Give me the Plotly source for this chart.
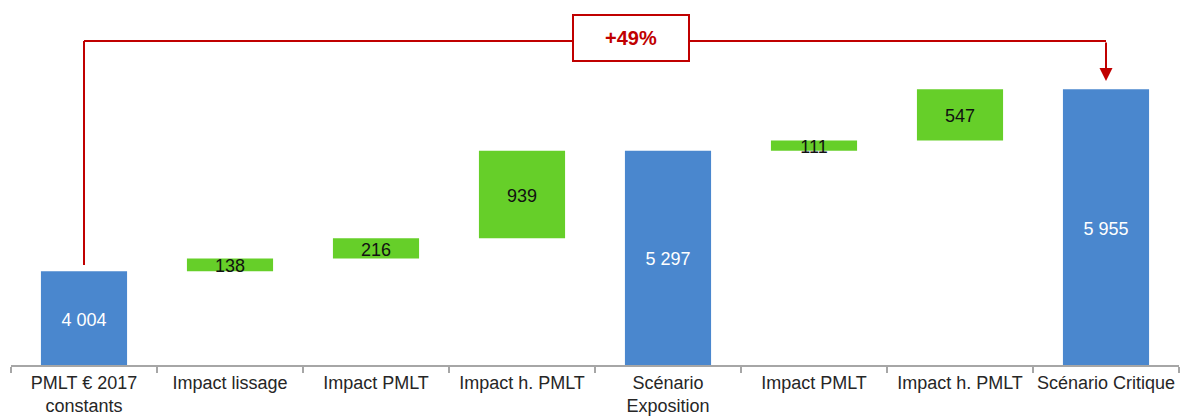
import plotly.graph_objects as go

categories = ["PMLT € 2017<br>constants", "Impact lissage", "Impact PMLT", "Impact h. PMLT",
              "Scénario<br>Exposition", "Impact PMLT", "Impact h. PMLT", "Scénario Critique"]
values = [4004, 138, 216, 939, 5297, 111, 547, 5955]
kinds = ["total", "delta", "delta", "delta", "total", "delta", "delta", "total"]
growth_label = "+49%"

BLUE = "#4A87CE"
GREEN = "#66CF29"
RED = "#C00000"
AXIS_MIN = 3000
AXIS_MAX = 6913
PLOT_H = 365
units_per_px = (AXIS_MAX - AXIS_MIN) / PLOT_H
label_drop = 3 * units_per_px

ids = [f"c{i}" for i in range(len(categories))]
bases, lengths, colors, text_y, labels, text_colors = [], [], [], [], [], []
running = 0
for v, k in zip(values, kinds):
    if k == "total":
        running = v
        bases.append(0)
        lengths.append(v)
        colors.append(BLUE)
        text_y.append((AXIS_MIN + v) / 2 - label_drop)
        text_colors.append("white")
    else:
        bases.append(running)
        lengths.append(v)
        colors.append(GREEN)
        text_y.append(running + v / 2 - label_drop)
        text_colors.append("#111111")
        running += v
    labels.append(f"{v:,}".replace(",", " "))

fig = go.Figure()
fig.add_trace(go.Bar(x=ids, y=lengths, base=bases, marker=dict(color=colors, line=dict(width=0)),
                     width=0.59, hoverinfo="skip", showlegend=False))
fig.add_trace(go.Scatter(x=ids, y=text_y, mode="text", text=labels,
                         textfont=dict(family="Liberation Sans, Arial", size=18, color=text_colors),
                         hoverinfo="skip", showlegend=False))

# bracket
first_total = values[0]
last_total = values[-1]
level = 6473
start_y = first_total + 68
arrow_tip = last_total + 90
fig.add_shape(type="line", x0=0, x1=0, y0=start_y, y1=level, line=dict(color=RED, width=2))
fig.add_shape(type="line", x0=0, x1=7, y0=level, y1=level, line=dict(color=RED, width=2))
fig.add_annotation(x=7, y=arrow_tip, ax=7, ay=level, xref="x", yref="y", axref="x", ayref="y",
                   showarrow=True, arrowhead=2, arrowsize=1.3, arrowwidth=2, arrowcolor=RED, text="")
fig.add_annotation(x=3.746, y=6511, xref="x", yref="y", showarrow=False,
                   text=f"<b>{growth_label}</b>",
                   font=dict(family="Liberation Sans, Arial", size=20, color=RED),
                   bgcolor="white", bordercolor=RED, borderwidth=2, width=112, height=42)

fig.update_layout(
    width=1181, height=416,
    margin=dict(l=11, r=2, t=0, b=416 - PLOT_H),
    plot_bgcolor="white", paper_bgcolor="white",
    font=dict(family="Liberation Sans, Arial", size=18, color="#262626"),
    xaxis=dict(type="category", tickmode="array", tickvals=ids, ticktext=categories,
               range=[-0.5, 7.5], automargin=False, tickangle=0,
               showline=True, linecolor="#A6A6A6", linewidth=2, ticks="outside",
               tickson="boundaries", ticklen=6, tickcolor="#A6A6A6", tickwidth=2,
               showgrid=False, zeroline=False, tickfont=dict(size=18, color="#262626")),
    yaxis=dict(range=[AXIS_MIN, AXIS_MAX], visible=False, showgrid=False, zeroline=False,
               automargin=False),
    bargap=0.41,
)

fig.write_html("out.html")
